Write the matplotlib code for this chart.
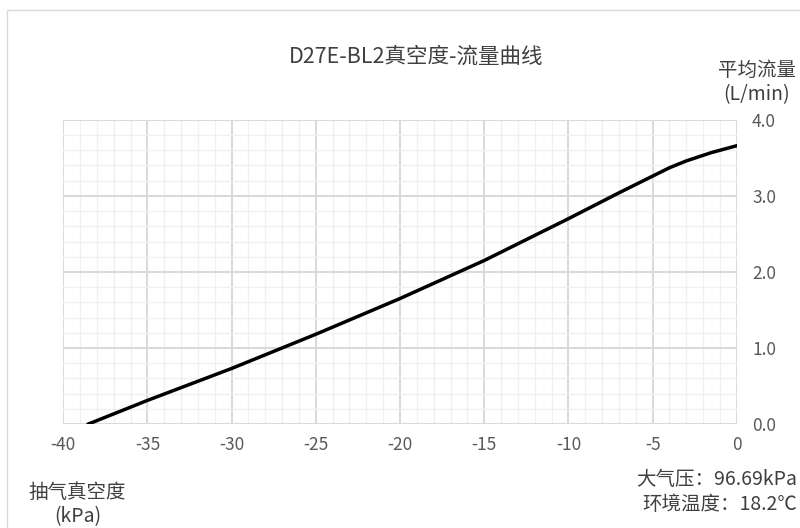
import matplotlib.pyplot as plt
import numpy as np
from matplotlib.patches import Rectangle
from matplotlib.ticker import MultipleLocator

plt.rcParams['font.family'] = ['Noto Sans CJK SC', 'DejaVu Sans']
plt.rcParams['axes.unicode_minus'] = False

vacuum = [-38.5, -35, -30, -25, -20, -15, -10, -7, -5, -4, -3, -1.5, 0]
flow = [0.0, 0.31, 0.73, 1.18, 1.65, 2.15, 2.70, 3.04, 3.26, 3.37, 3.46, 3.57, 3.66]

title = 'D27E-BL2真空度-流量曲线'
ylabel = '平均流量\n(L/min)'
xlabel = '抽气真空度\n(kPa)'
note = '大气压：96.69kPa\n环境温度：18.2℃'

fig = plt.figure(figsize=(8, 5.28), dpi=100)
fig.patches.append(Rectangle((0.009, -0.01), 1.0, 0.991, transform=fig.transFigure,
                             fill=False, edgecolor='#d9d9d9', linewidth=1))
ax = fig.add_axes([0.079, 0.197, 0.842, 0.576])

ax.plot(vacuum, flow, color='black', linewidth=2.5, zorder=3)

ax.set_xlim(-40, 0)
ax.set_ylim(0, 4)
ax.xaxis.set_major_locator(MultipleLocator(5))
ax.xaxis.set_minor_locator(MultipleLocator(1))
ax.yaxis.set_major_locator(MultipleLocator(1))
ax.yaxis.set_minor_locator(MultipleLocator(0.2))
ax.grid(which='major', color='#d9d9d9', linewidth=1.4)
ax.grid(which='minor', color='#f0f0f0', linewidth=1)
ax.set_axisbelow(True)
for s in ax.spines.values():
    s.set_visible(False)

ax.yaxis.tick_right()
ax.set_yticks(np.arange(0, 4.01, 1))
ax.set_yticklabels(['%.1f' % v for v in np.arange(0, 4.01, 1)])
ax.tick_params(which='both', length=0, labelsize=12.5, labelcolor='#595959')
ax.tick_params(axis='x', pad=9)
ax.tick_params(axis='y', pad=11)

fig.text(0.52, 0.892, title, ha='center', va='center', fontsize=15.5, color='#404040')
fig.text(0.946, 0.843, ylabel, ha='center', va='center', fontsize=14,
         color='#404040', linespacing=1.2)
fig.text(0.097, 0.045, xlabel, ha='center', va='center', fontsize=14,
         color='#404040', linespacing=1.2)
fig.text(0.996, 0.068, note, ha='right', va='center', fontsize=14,
         color='#404040', linespacing=1.2)

fig.savefig('out.png', dpi=100)
